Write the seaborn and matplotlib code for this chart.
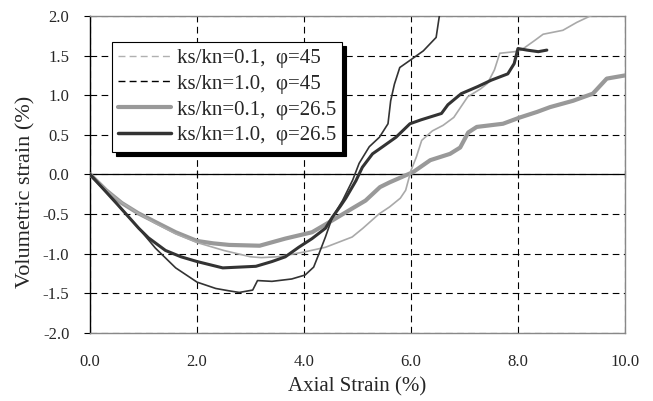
import numpy as np
import pandas as pd
import matplotlib
matplotlib.use("Agg")
import matplotlib.pyplot as plt
import seaborn as sns
from matplotlib.lines import Line2D

# ===================== DATA =====================
labels = ["ks/kn=0.1,  \u03c6=45", "ks/kn=1.0,  \u03c6=45",
          "ks/kn=0.1,  \u03c6=26.5", "ks/kn=1.0,  \u03c6=26.5"]

# ks/kn=0.1, phi=45
x_a = [0, 0.3, 0.6, 0.9, 1.2, 1.6, 2.0, 2.5, 3.0, 3.2, 3.5, 4.0, 4.4, 4.9, 5.1, 5.4,
       5.6, 5.8, 5.9, 6.0, 6.1, 6.2, 6.4, 6.6, 6.8, 6.9, 7.06, 7.3, 7.43, 7.56, 7.66,
       7.94, 8.06, 8.31, 8.47, 8.84, 9.1, 9.35, 9.6]
y_a = [0, -0.2, -0.36, -0.49, -0.61, -0.75, -0.86, -0.96, -1.04, -1.05, -1.04, -0.98,
       -0.92, -0.79, -0.68, -0.5, -0.41, -0.3, -0.2, 0.05, 0.22, 0.43, 0.55, 0.62,
       0.72, 0.82, 0.98, 1.08, 1.15, 1.32, 1.53, 1.55, 1.57, 1.69, 1.77, 1.82, 1.92,
       2.0, 2.06]

# ks/kn=1.0, phi=45
x_b = [0, 0.5, 0.91, 1.22, 1.6, 2.0, 2.35, 2.6, 2.79, 3.04, 3.13, 3.4, 3.77, 4.02,
       4.18, 4.28, 4.4, 4.53, 4.72, 4.91, 5.03, 5.22, 5.41, 5.57, 5.62, 5.69, 5.79,
       5.98, 6.23, 6.47, 6.53, 6.6]
y_b = [0, -0.37, -0.68, -0.93, -1.18, -1.36, -1.44, -1.47, -1.49, -1.46, -1.34, -1.35,
       -1.32, -1.27, -1.17, -1.0, -0.79, -0.54, -0.33, -0.07, 0.14, 0.35, 0.47, 0.64,
       0.93, 1.14, 1.35, 1.44, 1.56, 1.73, 2.0, 2.1]

# ks/kn=0.1, phi=26.5
x_c = [0, 0.3, 0.59, 0.9, 1.22, 1.6, 2.0, 2.3, 2.6, 3.17, 3.65, 4.15, 4.53, 4.9, 5.15,
       5.42, 5.6, 6.04, 6.36, 6.73, 6.92, 7.07, 7.23, 7.72, 8.04, 8.36, 8.6, 9.03,
       9.4, 9.66, 10.0]
y_c = [0, -0.2, -0.36, -0.49, -0.6, -0.73, -0.84, -0.87, -0.89, -0.9, -0.81, -0.73,
       -0.58, -0.43, -0.33, -0.16, -0.1, 0.03, 0.18, 0.26, 0.34, 0.53, 0.6, 0.64, 0.72,
       0.79, 0.85, 0.93, 1.02, 1.21, 1.25]

# ks/kn=1.0, phi=26.5
x_d = [0, 0.5, 0.91, 1.09, 1.41, 1.7, 2.0, 2.48, 3.1, 3.4, 3.65, 3.9, 4.15, 4.4, 4.53,
       4.68, 4.78, 4.97, 5.09, 5.28, 5.47, 5.72, 5.98, 6.19, 6.57, 6.69, 6.94, 7.25,
       7.5, 7.81, 7.93, 8.0, 8.17, 8.38, 8.54]
y_d = [0, -0.37, -0.68, -0.8, -0.96, -1.04, -1.1, -1.18, -1.16, -1.1, -1.04, -0.92,
       -0.81, -0.68, -0.54, -0.4, -0.3, -0.08, 0.09, 0.26, 0.35, 0.47, 0.64, 0.69,
       0.77, 0.88, 1.02, 1.11, 1.19, 1.27, 1.40, 1.59, 1.57, 1.55, 1.57]

x_ticks = [0, 2, 4, 6, 8, 10]
y_ticks = [-2.0, -1.5, -1.0, -0.5, 0.0, 0.5, 1.0, 1.5, 2.0]

# ===================== STYLE =====================
sns.set_style("white")
plt.rcParams["font.family"] = ["Liberation Serif", "DejaVu Serif"]

series = [
    (labels[0], x_a, y_a, "#a9a9a9", 1.2),
    (labels[1], x_b, y_b, "#333333", 1.2),
    (labels[2], x_c, y_c, "#999999", 3.0),
    (labels[3], x_d, y_d, "#333333", 2.2),
]

fig = plt.figure(figsize=(6.53, 4.01), dpi=100)
ax = fig.add_axes([0.138, 0.170, 0.819, 0.790])

# thick gray first so the thin ones sit on top
for name, xs, ys, col, lw in [series[2], series[0], series[3], series[1]]:
    df = pd.DataFrame({"x": xs, "y": ys})
    sns.lineplot(data=df, x="x", y="y", sort=False, estimator=None, color=col,
                 linewidth=lw, ax=ax, legend=False, zorder=3)

ax.set_xlim(0, 10)
ax.set_ylim(-2, 2)
ax.set_xticks(x_ticks)
ax.set_xticklabels([f"{v:.1f}" for v in x_ticks])
ax.set_yticks(y_ticks)
ax.set_yticklabels([f"{v:.1f}" for v in y_ticks])

ax.grid(True, color="black", linestyle=(0, (6, 4)), linewidth=0.8, zorder=1)
ax.axhline(0, color="black", linewidth=0.9, zorder=2)

for side in ["top", "right", "bottom"]:
    ax.spines[side].set_color("#888888")
    ax.spines[side].set_linewidth(1.0)
ax.spines["left"].set_color("black")
ax.spines["left"].set_linewidth(1.0)

ax.tick_params(axis="y", direction="out", length=4, width=0.8, color="black",
               labelsize=12, pad=11, left=True)
ax.tick_params(axis="x", length=0, labelsize=12, pad=15)

# small crossing ticks on the zero line (Excel style axis at y=0)
zero_ax = ax.secondary_xaxis(0.5)
zero_ax.set_xticks(x_ticks)
zero_ax.tick_params(direction="inout", length=6, width=0.8, color="black",
                    labeltop=False, labelbottom=False)
for sp in zero_ax.spines.values():
    sp.set_visible(False)

ax.set_xlabel("Axial Strain (%)", fontsize=15)
ax.xaxis.set_label_coords(0.5, -0.171)
ax.xaxis.label.set_va("center")
ax.set_ylabel("Volumetric strain (%)", fontsize=16)
ax.yaxis.set_label_coords(-0.121, 0.444)
ax.yaxis.label.set_va("center")

handles = [Line2D([], [], color="#b0b0b0", lw=1.0, ls=(0, (5, 3))),
           Line2D([], [], color="black", lw=1.0, ls=(0, (5, 3))),
           Line2D([], [], color="#999999", lw=3.0),
           Line2D([], [], color="#333333", lw=2.5)]
leg = ax.legend(handles, labels, loc="upper left", bbox_to_anchor=(0.041, 0.918),
                borderaxespad=0, frameon=True, fancybox=False,
                shadow={"color": "black", "alpha": 1.0, "ox": 3, "oy": -3},
                edgecolor="black", fontsize=15, handlelength=2.55, handletextpad=0.25,
                labelspacing=0.3, borderpad=0.3, framealpha=1.0)
leg.get_frame().set_linewidth(0.8)
leg.set_zorder(5)

fig.savefig("out.png", dpi=100)
